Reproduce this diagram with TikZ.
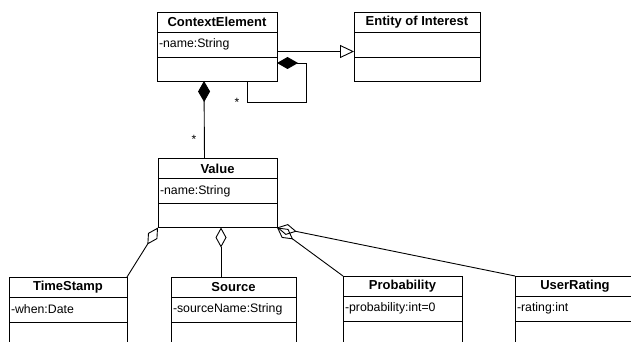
\documentclass[tikz,border=0pt]{standalone}
\usepackage{fontspec}
\setmainfont{Liberation Sans}
\usetikzlibrary{positioning,arrows.meta,calc}

\tikzset{
  clstitle/.style={draw, minimum width=#1, minimum height=20pt, inner sep=0pt, outer sep=0pt,
    font=\fontsize{13}{15}\selectfont\bfseries},
  clsattr/.style={draw, text width=#1, minimum height=25pt, inner xsep=2pt, inner ysep=0pt,
    outer sep=0pt, align=left, font=\fontsize{12.3}{14}\selectfont},
  clsops/.style={draw, minimum width=#1, minimum height=24pt, inner sep=0pt, outer sep=0pt},
  comp/.style={{Diamond[length=21pt,width=12pt]}-},
  aggr/.style={{Diamond[open,length=20pt,width=11pt]}-},
  gen/.style={-{Triangle[open,length=14pt,width=13pt]}},
  mult/.style={font=\fontsize{12}{12}\selectfont, inner sep=0pt}
}

\begin{document}
\begin{tikzpicture}[x=1pt,y=-1pt,line width=.9pt]
    \useasboundingbox (0,0) rectangle (631,342);

    % context element and entity
    \node[clstitle=120pt] (CE) at (217,22) {ContextElement};
    \node[clsattr=116pt, below=0pt of CE] (CEa) {-name:String};
    \node[clsops=120pt, below=0pt of CEa] (CEo) {};

    \node[clstitle=126pt] (EI) at (417,22) {Entity of Interest};
    \node[clsattr=122pt, below=0pt of EI] (EIa) {};
    \node[clsops=126pt, below=0pt of EIa] (EIo) {};

    % value
    \node[clstitle=119pt] (Val) at (217.5,168.5) {Value};
    \node[clsattr=115pt, below=0pt of Val] (Vala) {-name:String};
    \node[clsops=119pt, below=0pt of Vala] (Valo) {};

    % value parts
    \node[clstitle=118pt] (TS) at (68,287) {TimeStamp};
    \node[clsattr=114pt, below=0pt of TS] (TSa) {-when:Date};
    \node[clsops=118pt, below=0pt of TSa] (TSo) {};

    \node[clstitle=125pt] (Src) at (233.5,287) {Source};
    \node[clsattr=121pt, below=0pt of Src] (Srca) {-sourceName:String};
    \node[clsops=125pt, below=0pt of Srca] (Srco) {};

    \node[clstitle=119pt] (Prob) at (402.5,286) {Probability};
    \node[clsattr=115pt, below=0pt of Prob] (Proba) {-probability:int=0};
    \node[clsops=119pt, below=0pt of Proba] (Probo) {};

    \node[clstitle=120pt] (UR) at (575,286) {UserRating};
    \node[clsattr=116pt, below=0pt of UR] (URa) {-rating:int};
    \node[clsops=120pt, below=0pt of URa] (URo) {};

    % connectors
    \draw[gen] ([yshift=-7pt]CEa.east) -- ([yshift=-7pt]EIa.west);
    \draw[comp] ($(CEo.north east)!.25!(CEo.south east)$) -- ++(29,0) -- ++(0,39)
        -| ($(CEo.south west)!.75!(CEo.south east)$);
    \draw[comp] ([xshift=-13pt]CEo.south) -- ([xshift=-13pt]Val.north);

    \draw[aggr] (Valo.south west) -- (TS.north east);
    \draw[aggr] ([xshift=3.5pt]Valo.south) -- ([xshift=3.5pt]Valo.south |- Src.north);
    \draw[aggr] (Valo.south east) -- (Prob.north west);
    \draw[aggr] (Valo.south east) -- (UR.north west);

    \node[mult] (m1) at (237,102) {*};
    \node[mult] (m2) at (194,139) {*};
\end{tikzpicture}
\end{document}
